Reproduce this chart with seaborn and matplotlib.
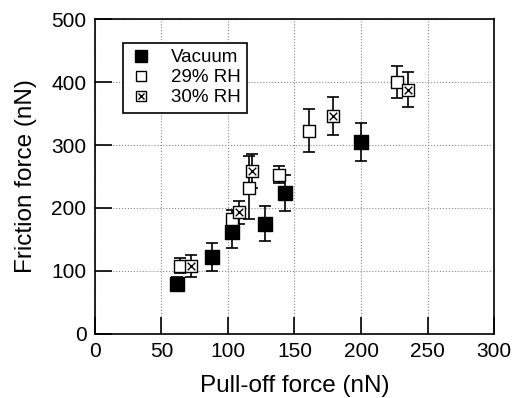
import pandas as pd
import seaborn as sns
import matplotlib
matplotlib.use("Agg")
import matplotlib.pyplot as plt
from matplotlib.lines import Line2D

# Data (pull-off force vs friction force, nN)
vac_x = [62, 88, 103, 128, 143, 200]
vac_y = [80, 122, 162, 175, 224, 305]
vac_err = [10, 22, 25, 28, 28, 30]

rh29_x = [64, 103, 116, 138, 161, 227]
rh29_y = [108, 182, 232, 253, 323, 400]
rh29_err = [12, 15, 50, 13, 34, 25]

rh30_x = [72, 108, 118, 179, 235]
rh30_y = [108, 193, 259, 346, 388]
rh30_err = [18, 18, 27, 30, 28]

labels = ['Vacuum', '29% RH', '30% RH']
x_ticks = [0, 50, 100, 150, 200, 250, 300]
y_ticks = [0, 100, 200, 300, 400, 500]

sns.set_style("white")
plt.rcParams['font.family'] = ['Liberation Sans', 'DejaVu Sans']
plt.rcParams['text.color'] = 'black'
plt.rcParams['axes.labelcolor'] = 'black'
plt.rcParams['xtick.color'] = 'black'
plt.rcParams['ytick.color'] = 'black'

fig = plt.figure(figsize=(5.18, 3.98), dpi=100)
ax = fig.add_axes([0.183, 0.161, 0.771, 0.791])

# Error bars first, markers on top
for xs, ys, es in [(vac_x, vac_y, vac_err), (rh29_x, rh29_y, rh29_err), (rh30_x, rh30_y, rh30_err)]:
    ax.errorbar(xs, ys, yerr=es, fmt='none', ecolor='black', elinewidth=1.2,
                capsize=4, capthick=1.2, zorder=2)

df_vac = pd.DataFrame({'x': vac_x, 'y': vac_y})
df_29 = pd.DataFrame({'x': rh29_x, 'y': rh29_y})
df_30 = pd.DataFrame({'x': rh30_x, 'y': rh30_y})

sns.scatterplot(data=df_vac, x='x', y='y', marker='s', s=95, color='black',
                edgecolor='black', linewidth=1, ax=ax, zorder=3)
sns.scatterplot(data=df_29, x='x', y='y', marker='s', s=70, color='white',
                edgecolor='black', linewidth=1, ax=ax, zorder=3)
sns.scatterplot(data=df_30, x='x', y='y', marker='s', s=70, color='white',
                edgecolor='black', linewidth=1, ax=ax, zorder=3)
sns.scatterplot(data=df_30, x='x', y='y', marker='x', s=30, color='black',
                linewidth=1, ax=ax, zorder=4)

ax.set_xlim(0, 300)
ax.set_ylim(0, 500)
ax.set_xticks(x_ticks)
ax.set_yticks(y_ticks)
ax.tick_params(direction='in', length=12, width=1.2, labelsize=15, pad=6,
               bottom=True, left=True, top=False, right=False,
               colors='black')
ax.grid(True, linestyle=':', color='#888888', linewidth=0.8)
for sp in ax.spines.values():
    sp.set_color('black')
    sp.set_linewidth(1.2)

ax.set_xlabel('Pull-off force (nN)', fontsize=17.5, labelpad=10, color='black')
ax.set_ylabel('Friction force (nN)', fontsize=17.5, labelpad=10, color='black')

h_vac = Line2D([], [], marker='s', color='black', markersize=8, linestyle='none')
h_29 = Line2D([], [], marker='s', markerfacecolor='white', markeredgecolor='black',
              markersize=7, linestyle='none')
h_30 = (Line2D([], [], marker='s', markerfacecolor='white', markeredgecolor='black',
               markersize=7, linestyle='none'),
        Line2D([], [], marker='x', color='black', markersize=5, linestyle='none'))
leg = ax.legend([h_vac, h_29, h_30], labels, loc='upper left',
                bbox_to_anchor=(0.07, 0.925), borderaxespad=0, fontsize=13.5,
                frameon=True, fancybox=False, edgecolor='black', framealpha=1,
                handlelength=1.2, handletextpad=1.0, borderpad=0.35,
                labelspacing=0.15)
leg.get_frame().set_linewidth(1.2)
for t in leg.get_texts():
    t.set_color('black')

fig.savefig('out.png', dpi=100)
